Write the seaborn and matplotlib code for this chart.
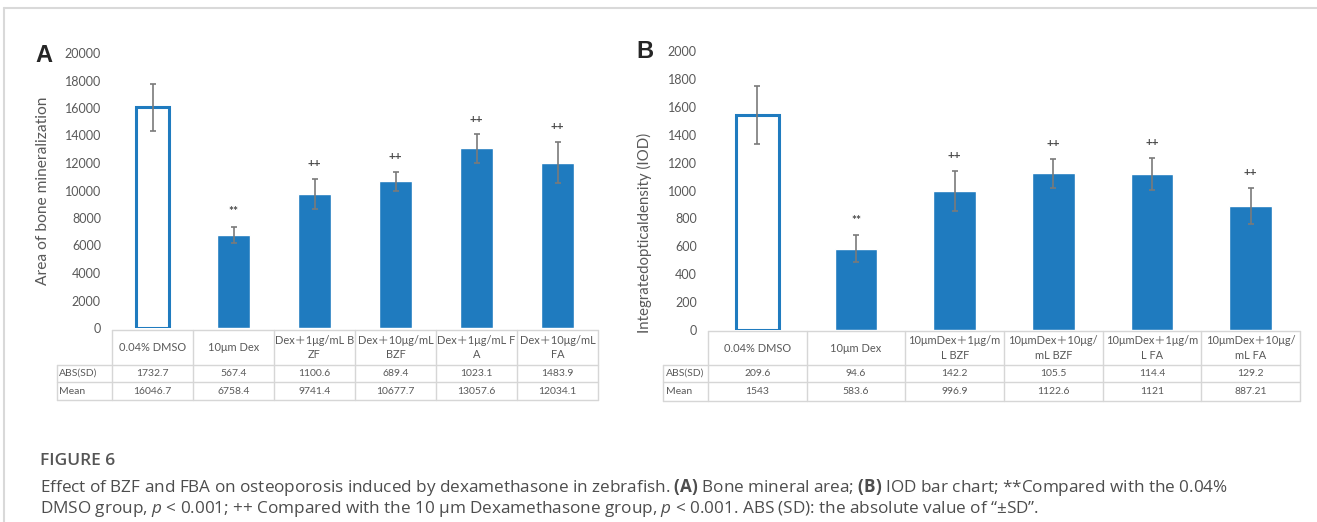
import matplotlib
matplotlib.use("Agg")
import matplotlib.pyplot as plt
import matplotlib.transforms as mtransforms
from matplotlib.lines import Line2D
import pandas as pd
import seaborn as sns

# data, panel A
groups_a = ["0.04% DMSO", "10μm Dex", "Dex＋1μg/mL B\nZF", "Dex＋10μg/mL\nBZF",
            "Dex＋1μg/mL F\nA", "Dex＋10μg/mL\nFA"]
mean_a = [16046.7, 6758.4, 9741.4, 10677.7, 13057.6, 12034.1]
sd_a = [1732.7, 567.4, 1100.6, 689.4, 1023.1, 1483.9]
marks_a = ["", "**", "++", "++", "++", "++"]

# data, panel B
groups_b = ["0.04% DMSO", "10μm Dex", "10μmDex＋1μg/m\nL BZF", "10μmDex＋10μg/\nmL BZF",
            "10μmDex＋1μg/m\nL FA", "10μmDex＋10μg/\nmL FA"]
mean_b = [1543, 583.6, 996.9, 1122.6, 1121, 887.21]
sd_b = [209.6, 94.6, 142.2, 105.5, 114.4, 129.2]
marks_b = ["", "**", "++", "++", "++", "++"]

row_names = ["ABS(SD)", "Mean"]

BLUE = "#1f7bbf"
GREY = "#595959"
LINE = "#d6d6d6"

sns.set_style("white")
plt.rcParams["font.family"] = ["Lato", "Noto Sans CJK SC", "DejaVu Sans"]
plt.rcParams["mathtext.fontset"] = "custom"
plt.rcParams["mathtext.rm"] = "Open Sans"
plt.rcParams["mathtext.it"] = "Open Sans:italic"
plt.rcParams["mathtext.bf"] = "Open Sans:bold"

W, H = 1317, 522
fig = plt.figure(figsize=(W / 100, H / 100), dpi=100)


def px_axes(left, right, y0, ytop):
    return fig.add_axes([left / W, 1 - y0 / H, (right - left) / W, (y0 - ytop) / H])


def draw_panel(ax, groups, means, sds, marks, ymax, ystep, bar_w, px_h, label_x, rows_px):
    df = pd.DataFrame({"group": groups, "mean": means})
    sns.barplot(data=df, x="group", y="mean", color=BLUE, saturation=1,
                width=bar_w, errorbar=None, ax=ax)
    first = ax.patches[0]
    first.set_facecolor("white")
    first.set_edgecolor(BLUE)
    first.set_linewidth(2.2)
    xs = list(range(len(groups)))
    ax.errorbar(xs, means, yerr=sds, fmt="none", ecolor="#7a7a7a",
                elinewidth=1.2, capsize=2.5, capthick=1.2, zorder=5)
    for x, m, s, t in zip(xs, means, sds, marks):
        if t:
            ax.annotate(t, (x, m + s), xytext=(0, 11), textcoords="offset points",
                        ha="center", va="center", fontsize=8.5, fontweight="bold",
                        color="#4a4a4a")
    ax.set_ylim(0, ymax)
    ax.set_xlim(-0.5, len(groups) - 0.5)
    ax.set_yticks(range(0, ymax + 1, ystep))
    ax.tick_params(axis="y", length=0, pad=8, labelsize=9, labelcolor=GREY)
    ax.set_xticks([])
    ax.set_xlabel("")
    sns.despine(ax=ax, left=True, bottom=True)

    # data table under the axis
    tr = mtransforms.blended_transform_factory(ax.transData, ax.transAxes)
    yy = [-p / px_h for p in rows_px]
    n = len(groups)
    kw = dict(color=LINE, lw=1, transform=tr, clip_on=False)
    ax.plot([-0.5, n - 0.5], [yy[0], yy[0]], **kw)
    for y in yy[1:]:
        ax.plot([label_x, n - 0.5], [y, y], **kw)
    for i in range(n + 1):
        ax.plot([i - 0.5, i - 0.5], [yy[0], yy[-1]], **kw)
    ax.plot([label_x, label_x], [yy[1], yy[-1]], **kw)
    tk = dict(transform=tr, ha="center", va="center", fontsize=7.5, color=GREY)
    for i, g in enumerate(groups):
        ax.text(i, (yy[0] + yy[1]) / 2, g, linespacing=1.35,
                **{**tk, "fontsize": 7.9})
        ax.text(i, (yy[1] + yy[2]) / 2, str(sds[i]), **tk)
        ax.text(i, (yy[2] + yy[3]) / 2, str(means[i]), **tk)
    for r, name in enumerate(row_names):
        ax.text(label_x + 0.03, (yy[r + 1] + yy[r + 2]) / 2, name, transform=tr,
                ha="left", va="center", fontsize=7.5, color=GREY)


# panel A
ax_a = px_axes(112, 598, 328, 53)
draw_panel(ax_a, groups_a, mean_a, sd_a, marks_a, 20000, 2000, 0.41, 275,
           -1.18, [2, 37, 54, 72])
ax_a.set_ylabel("Area of bone mineralization", fontsize=11.2, color=GREY)
ax_a.yaxis.set_label_coords(-0.128, 0.5)
fig.text(35 / W, 1 - 55 / H, "A", fontsize=17, fontweight="bold",
         family="Liberation Sans", va="center", ha="left")

# panel B
ax_b = px_axes(708, 1300, 330, 51)
draw_panel(ax_b, groups_b, mean_b, sd_b, marks_b, 2000, 200, 0.43, 279,
           -0.955, [1, 35, 52, 71])
ax_b.set_ylabel("Integratedopticaldensity (IOD)", fontsize=10.8, color=GREY)
ax_b.yaxis.set_label_coords(-0.095, 0.348)
fig.text(636 / W, 1 - 52 / H, "B", fontsize=17, fontweight="bold",
         family="Liberation Sans", va="center", ha="left")

# caption
fig.text(40 / W, 1 - 461 / H, "FIGURE 6", fontsize=12.5, color="#555555",
         family="Open Sans", fontweight="semibold", va="center")
cap1 = (r"Effect of BZF and FBA on osteoporosis induced by dexamethasone in zebrafish. "
        r"$\mathbf{(A)}$ Bone mineral area; $\mathbf{(B)}$ IOD bar chart; "
        r"**Compared with the 0.04%")
cap2 = (r"DMSO group, $p$ < 0.001; ++ Compared with the 10 μm Dexamethasone group, "
        r"$p$ < 0.001. ABS (SD): the absolute value of “±SD”.")
for y, t in [(488, cap1), (509, cap2)]:
    fig.text(40 / W, 1 - y / H, t, fontsize=12.3, color="#4d4d4d",
             family="Open Sans", va="center")

# frame lines
fig.add_artist(Line2D([4 / W, 1], [1 - 8 / H, 1 - 8 / H], color="#d9d9d9", lw=1.5))
fig.add_artist(Line2D([4 / W, 4 / W], [0, 1 - 8 / H], color="#d9d9d9", lw=1.5))

fig.savefig("out.png", dpi=100)
